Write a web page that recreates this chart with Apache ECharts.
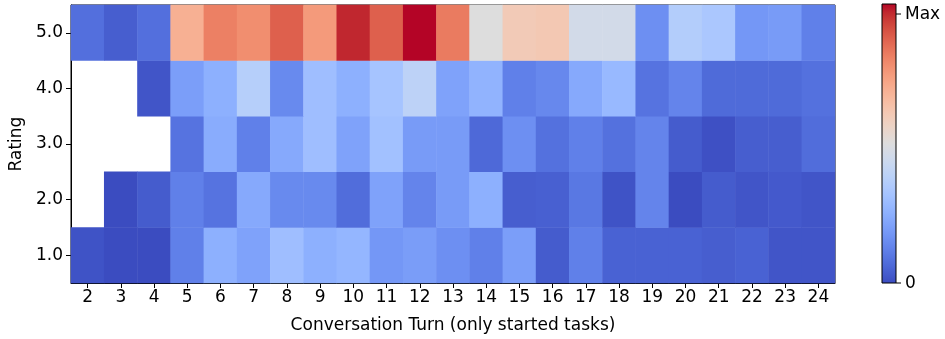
<!DOCTYPE html>
<html>
<head>
<meta charset="utf-8">
<script src="https://cdn.jsdelivr.net/npm/echarts@6/dist/echarts.min.js"></script>
<style>
html,body{margin:0;padding:0;background:#fff;}
#chart{width:945px;height:339px;}
</style>
</head>
<body>
<div id="chart"></div>
<script>
// Categories
const turns = ['2','3','4','5','6','7','8','9','10','11','12','13','14','15','16','17','18','19','20','21','22','23','24'];
const ratings = ['1.0','2.0','3.0','4.0','5.0'];
// Normalised values (0 = min, 1 = max), null = no data
const rating1 = [0.015,0.0,0.0,0.12,0.25,0.21,0.30,0.25,0.27,0.18,0.195,0.16,0.12,0.20,0.035,0.12,0.05,0.05,0.05,0.04,0.05,0.02,0.02];
const rating2 = [null,0.0,0.035,0.12,0.09,0.23,0.145,0.145,0.075,0.21,0.13,0.19,0.25,0.04,0.045,0.10,0.015,0.13,0.0,0.035,0.02,0.03,0.02];
const rating3 = [null,null,null,0.09,0.24,0.12,0.23,0.30,0.21,0.31,0.19,0.19,0.065,0.16,0.085,0.12,0.085,0.13,0.035,0.01,0.04,0.04,0.075];
const rating4 = [null,null,0.02,0.20,0.25,0.37,0.145,0.30,0.25,0.32,0.39,0.21,0.26,0.12,0.14,0.23,0.28,0.09,0.13,0.07,0.07,0.07,0.085];
const rating5 = [0.08,0.04,0.08,0.69,0.81,0.78,0.875,0.75,0.97,0.875,1.0,0.82,0.50,0.60,0.61,0.46,0.46,0.16,0.36,0.335,0.18,0.19,0.12];
const colorbarLabels = ['Max','0'];

const coolwarm = [
 [59,76,192],[68,90,204],[77,104,215],[87,117,225],[98,130,234],[108,142,241],[119,154,247],[130,165,251],
 [141,176,254],[152,185,255],[163,194,255],[174,201,253],[184,208,249],[194,213,244],[204,217,238],[213,219,230],
 [221,221,221],[229,216,209],[236,211,197],[241,204,185],[245,196,173],[247,187,160],[247,177,148],[247,166,135],
 [244,154,123],[241,141,111],[236,127,99],[229,112,88],[222,96,77],[213,80,66],[203,62,56],[192,40,47],[180,4,38]
].map(c => 'rgb(' + c.join(',') + ')');

const rows = [rating1, rating2, rating3, rating4, rating5];
const data = [];
rows.forEach((row, yi) => row.forEach((v, xi) => { if (v !== null) data.push([xi, yi, v]); }));

const FONT = 'DejaVu Sans';
const FS = 17;
const chart = echarts.init(document.getElementById('chart'), null, {renderer: 'canvas'});

const cbX = 882, cbW = 14, cbTop = 4, cbBot = 283;
const gradStops = coolwarm.map((c, i) => ({offset: 1 - i / (coolwarm.length - 1), color: c}));

chart.setOption({
  animation: false,
  backgroundColor: '#fff',
  grid: {left: 71, right: 110, top: 5, bottom: 56, show: true, borderColor: '#000', borderWidth: 1, backgroundColor: 'transparent'},
  xAxis: {
    type: 'category', data: turns,
    name: 'Conversation Turn (only started tasks)', nameLocation: 'middle', nameGap: 34,
    nameTextStyle: {fontFamily: FONT, fontSize: FS, color: '#000'},
    axisLine: {show: true, lineStyle: {color: '#000'}},
    axisTick: {show: true, alignWithLabel: true, length: 5, lineStyle: {color: '#000'}},
    axisLabel: {fontFamily: FONT, fontSize: FS, color: '#000', margin: 6, interval: 0},
    splitLine: {show: false}, splitArea: {show: false}
  },
  yAxis: {
    type: 'category', data: ratings,
    name: 'Rating', nameLocation: 'middle', nameGap: 46, nameRotate: 90,
    nameTextStyle: {fontFamily: FONT, fontSize: FS, color: '#000'},
    axisLine: {show: true, lineStyle: {color: '#000'}},
    axisTick: {show: true, alignWithLabel: true, length: 5, lineStyle: {color: '#000'}},
    axisLabel: {fontFamily: FONT, fontSize: FS, color: '#000', margin: 8},
    splitLine: {show: false}, splitArea: {show: false}
  },
  visualMap: {type: 'continuous', show: false, min: 0, max: 1, dimension: 2, seriesIndex: 0, inRange: {color: coolwarm}},
  series: [{
    type: 'heatmap', data: data,
    itemStyle: {borderWidth: 0},
    emphasis: {disabled: true}
  }],
  graphic: [
    {type: 'rect', shape: {x: cbX, y: cbTop, width: cbW, height: cbBot - cbTop},
     style: {fill: new echarts.graphic.LinearGradient(0, 0, 0, 1, gradStops), stroke: '#000', lineWidth: 1}},
    {type: 'line', shape: {x1: cbX + cbW, y1: 14, x2: cbX + cbW + 5, y2: 14}, style: {stroke: '#000', lineWidth: 1}},
    {type: 'line', shape: {x1: cbX + cbW, y1: cbBot, x2: cbX + cbW + 5, y2: cbBot}, style: {stroke: '#000', lineWidth: 1}},
    {type: 'text', x: cbX + cbW + 9, y: 15, style: {text: colorbarLabels[0], font: FS + 'px "DejaVu Sans"', fill: '#000', textVerticalAlign: 'middle', verticalAlign: 'middle'}},
    {type: 'text', x: cbX + cbW + 9, y: cbBot + 1, style: {text: colorbarLabels[1], font: FS + 'px "DejaVu Sans"', fill: '#000', textVerticalAlign: 'middle', verticalAlign: 'middle'}}
  ]
});
</script>
</body>
</html>
